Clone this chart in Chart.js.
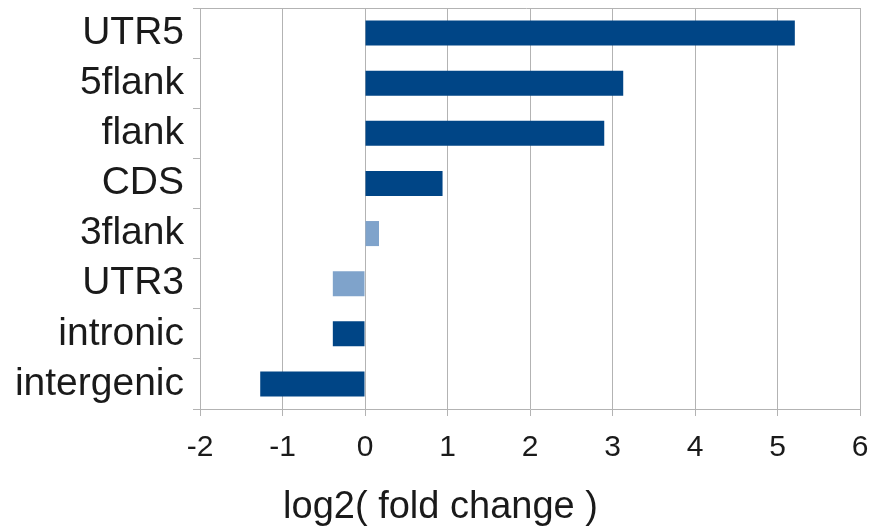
<!DOCTYPE html>
<html>
<head>
<meta charset="utf-8">
<script src="https://cdn.jsdelivr.net/npm/chart.js@4/dist/chart.umd.min.js"></script>
<style>
  html, body { margin: 0; padding: 0; background: #ffffff; }
  #wrap { width: 873px; height: 527px; position: relative; }
</style>
</head>
<body>
<div id="wrap"><canvas id="chart" width="873" height="527"></canvas></div>
<script>
// Genomic regions and their log2 fold change
const regions = ["UTR5", "5flank", "flank", "CDS", "3flank", "UTR3", "intronic", "intergenic"];
const log2FoldChange = [5.21, 3.13, 2.90, 0.94, 0.17, -0.39, -0.39, -1.27];
// Regions shown in the lighter shade
const lightRegions = ["3flank", "UTR3"];
const xTicks = [-2, -1, 0, 1, 2, 3, 4, 5, 6];
const xTitle = "log2( fold change )";

const DARK = "#004586";
const LIGHT = "#7fa3cb";
const GRID = "#b3b3b3";
const FONT = "'Liberation Sans', Arial, sans-serif";

const barColors = regions.map(r => lightRegions.includes(r) ? LIGHT : DARK);

// Top edge of the plotting frame (the axes supply the other sides)
const frame = {
  id: "frame",
  afterDraw(chart) {
    const { ctx, chartArea: a } = chart;
    ctx.save();
    ctx.strokeStyle = GRID;
    ctx.lineWidth = 1;
    ctx.beginPath();
    ctx.moveTo(a.left - 7, Math.round(a.top) + 0.5);
    ctx.lineTo(a.right, Math.round(a.top) + 0.5);
    ctx.stroke();
    ctx.restore();
  }
};

new Chart(document.getElementById("chart"), {
  type: "bar",
  data: {
    labels: regions,
    datasets: [{
      data: log2FoldChange,
      backgroundColor: barColors,
      borderWidth: 0,
      barPercentage: 0.5,
      categoryPercentage: 1.0
    }]
  },
  options: {
    indexAxis: "y",
    responsive: false,
    animation: false,
    events: [],
    layout: { padding: { top: 8, right: 0, left: 8, bottom: 0 } },
    plugins: {
      legend: { display: false },
      tooltip: { enabled: false },
      // Axis caption, centred on the whole figure
      title: {
        display: true,
        position: "bottom",
        text: xTitle,
        color: "#1a1a1a",
        font: { family: FONT, size: 38, weight: "normal", lineHeight: 1.0 },
        padding: { top: 0, bottom: 0 }
      }
    },
    scales: {
      x: {
        type: "linear",
        min: -2,
        max: 6,
        afterBuildTicks(scale) { scale.ticks = xTicks.map(v => ({ value: v })); },
        afterFit(scale) {
          scale.height = 80;
          scale.paddingLeft = 0;
          scale.paddingRight = 13;
        },
        grid: {
          color: GRID,
          lineWidth: 1,
          drawTicks: true,
          tickLength: 7,
          tickColor: GRID
        },
        border: { display: true, color: GRID },
        ticks: {
          color: "#1a1a1a",
          font: { family: FONT, size: 30 },
          padding: 14
        }
      },
      y: {
        type: "category",
        offset: true,
        afterFit(scale) {
          scale.width = 192;
          scale.paddingTop = 0;
          scale.paddingBottom = 0;
        },
        grid: {
          offset: true,
          drawOnChartArea: false,
          drawTicks: true,
          tickLength: 7,
          tickColor: GRID,
          color: GRID
        },
        border: { display: true, color: GRID },
        ticks: {
          color: "#1a1a1a",
          font: { family: FONT, size: 39 },
          padding: 9,
          autoSkip: false
        }
      }
    }
  },
  plugins: [frame]
});
</script>
</body>
</html>
